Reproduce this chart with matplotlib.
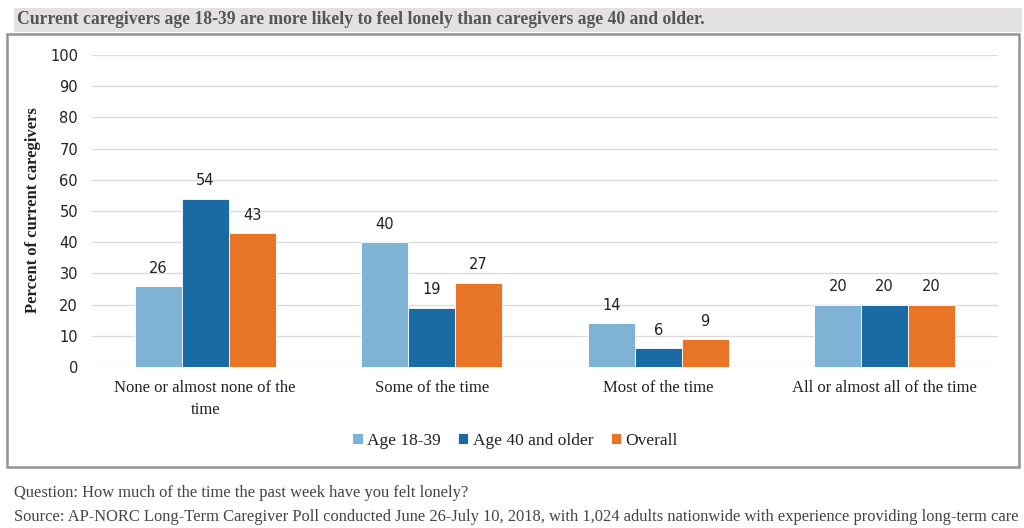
import matplotlib
matplotlib.use('Agg')
import matplotlib.pyplot as plt
from matplotlib.patches import Rectangle
import numpy as np

categories = ['None or almost none of the\ntime', 'Some of the time', 'Most of the time', 'All or almost all of the time']
series_names = ['Age 18-39', 'Age 40 and older', 'Overall']
age_18_39 = [26, 40, 14, 20]
age_40_plus = [54, 19, 6, 20]
overall = [43, 27, 9, 20]
colors = ['#7fb3d5', '#1a6aa6', '#e87526']

title = 'Current caregivers age 18-39 are more likely to feel lonely than caregivers age 40 and older.'
ylabel = 'Percent of current caregivers'
note1 = 'Question: How much of the time the past week have you felt lonely?'
note2 = 'Source: AP-NORC Long-Term Caregiver Poll conducted June 26-July 10, 2018, with 1,024 adults nationwide with experience providing long-term care'

W, H = 1024, 528
fig = plt.figure(figsize=(W / 100, H / 100), dpi=100)

# title band
fig.patches.append(Rectangle((14 / W, 1 - 32 / H), 1008 / W, 24 / H, transform=fig.transFigure,
                             facecolor='#e4e2e0', edgecolor='none', zorder=-2))
fig.text(17 / W, 1 - 20 / H, title, family='Liberation Serif', weight='bold', fontsize=12.7,
         color='#555555', va='center', ha='left')

# chart frame
fig.patches.append(Rectangle((7 / W, 1 - 467 / H), 1012 / W, 433 / H, transform=fig.transFigure,
                             facecolor='white', edgecolor='#9a918c', lw=1.8, zorder=-2))

ax = fig.add_axes([92 / W, 1 - 367 / H, 906 / W, 312 / H])
ax.set_zorder(2)
ax.set_facecolor('none')
x = np.arange(len(categories))
bw = 0.207
for i, vals in enumerate([age_18_39, age_40_plus, overall]):
    bars = ax.bar(x + (i - 1) * bw, vals, bw, color=colors[i], label=series_names[i], zorder=3,
                  edgecolor='white', linewidth=0.6)
    for b, v in zip(bars, vals):
        ax.text(b.get_x() + b.get_width() / 2, v + 3.3, str(v), ha='center', va='bottom',
                family='DejaVu Sans', fontsize=10.5, color='#222222')

ax.set_xlim(-0.5, 3.5)
ax.set_ylim(0, 100)
ax.set_yticks(np.arange(0, 101, 10))
ax.grid(axis='y', color='#dcdcdc', lw=1, zorder=0)
for s in ax.spines.values():
    s.set_visible(False)
ax.tick_params(length=0)
ax.tick_params(axis='y', pad=10, labelsize=10.5, labelcolor='#222222')
ax.set_xticks(x)
ax.set_xticklabels(categories, family='Liberation Serif', fontsize=12, color='#222222', linespacing=1.5)
ax.tick_params(axis='x', pad=9)
for lab in ax.get_yticklabels():
    lab.set_family('DejaVu Sans')

fig.text(33 / W, 1 - 210 / H, ylabel, rotation=90, family='Liberation Serif', weight='bold',
         fontsize=12, color='#222222', ha='center', va='center')

leg = fig.legend(loc='center', bbox_to_anchor=(515 / W, 1 - 441 / H), ncol=3, frameon=False,
                 prop={'family': 'Liberation Serif', 'size': 12.5}, handlelength=0.6, handleheight=0.6,
                 handletextpad=0.25, columnspacing=1.0)
for t in leg.get_texts():
    t.set_color('#222222')

fig.text(14 / W, 1 - 493 / H, note1, family='Liberation Serif', fontsize=11.9, color='#444444', va='center')
fig.text(14 / W, 1 - 517 / H, note2, family='Liberation Serif', fontsize=11.9, color='#444444', va='center')

fig.savefig('out.png', dpi=100)
